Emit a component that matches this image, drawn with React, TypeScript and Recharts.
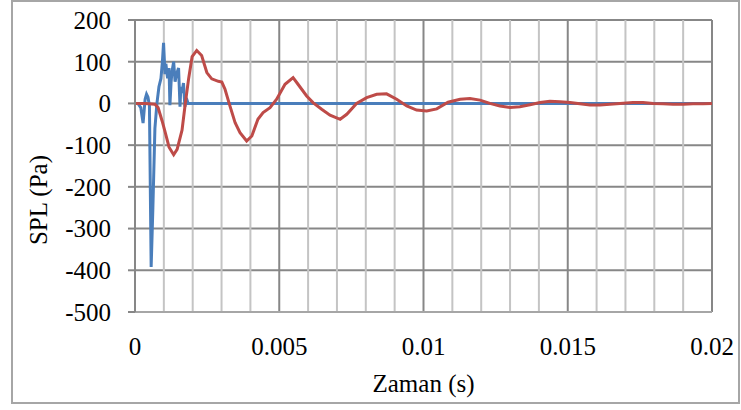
import React from "react";
import { LineChart, Line, XAxis, YAxis, CartesianGrid, ReferenceLine, Label } from "recharts";

// time (s) and SPL (Pa)
const blueTime = [
  0, 0.0001, 0.0002, 0.00028, 0.00035, 0.0004, 0.00045, 0.0005, 0.00056, 0.00062, 0.00069,
  0.00076, 0.00083, 0.0009, 0.00095, 0.00099, 0.00104, 0.00107, 0.00113, 0.00118, 0.00121,
  0.00125, 0.00128, 0.00134, 0.00139, 0.00144, 0.00151, 0.00156, 0.00159, 0.00163, 0.00168,
  0.00173, 0.00178, 0.00184, 0.0019, 0.02,
];
const blueSpl = [
  0, 0, -10, -47, 10, 22, 15, -5, -392, -250, -60, 0, 40, 60, 100, 145, 70, 95, 60, 85, -4, 50,
  75, 100, 52, 70, 85, -8, 40, 25, 49, -8, 13, 0, 0, 0,
];

const redTime = [
  0, 0.00035, 0.00069, 0.0008, 0.00094, 0.00105, 0.00118, 0.00134, 0.00146, 0.00163, 0.00174,
  0.00186, 0.00198, 0.00214, 0.00231, 0.00249, 0.00266, 0.00289, 0.00301, 0.00312, 0.00329,
  0.00347, 0.00364, 0.00387, 0.00405, 0.00426, 0.00444, 0.00468, 0.00491, 0.0052, 0.00548,
  0.00565, 0.00595, 0.00617, 0.00647, 0.00676, 0.00711, 0.00734, 0.00768, 0.00803, 0.00838,
  0.00872, 0.00907, 0.00942, 0.00976, 0.01011, 0.01046, 0.01085, 0.01127, 0.01161, 0.01196,
  0.0123, 0.01265, 0.013, 0.01334, 0.01369, 0.01404, 0.01438, 0.01473, 0.01508, 0.01542,
  0.01577, 0.01612, 0.01646, 0.01681, 0.01726, 0.01761, 0.01796, 0.0183, 0.01865, 0.019,
  0.01934, 0.01969, 0.02,
];
const redSpl = [
  0, 0, -2, -10, -42, -70, -105, -123, -110, -64, -2, 60, 112, 127, 115, 74, 59, 53, 51, 34, -6,
  -46, -70, -90, -78, -38, -22, -10, 10, 46, 62, 46, 18, 2, -14, -28, -38, -26, 0, 14, 22, 23, 10,
  -6, -16, -18, -13, 3, 10, 12, 8, 0, -6, -10, -8, -3, 2, 5, 4, 2, -1, -4, -4, -2, 0, 2, 2, 0, -1,
  -2, -2, -1, -1, 0,
];

const xTicks = [0, 0.005, 0.01, 0.015, 0.02];
const xMinorGrid = [
  0.001, 0.002, 0.003, 0.004, 0.006, 0.007, 0.008, 0.009, 0.011, 0.012, 0.013, 0.014, 0.016,
  0.017, 0.018, 0.019,
];
const xMajorGrid = [0.005, 0.01, 0.015, 0.02];
const yTicks = [-500, -400, -300, -200, -100, 0, 100, 200];

const blueData = blueTime.map((t, i) => ({ t, v: blueSpl[i] }));
const redData = redTime.map((t, i) => ({ t, v: redSpl[i] }));

const FONT = "Liberation Serif, Times New Roman, DejaVu Serif, serif";
const tickStyle = { fontFamily: FONT, fontSize: 25, fill: "#000" };

export default function App() {
  return (
    <div
      style={{
        position: "absolute",
        left: 0,
        top: 0,
        width: 741,
        height: 410,
        background: "#fff",
        fontFamily: FONT,
      }}
    >
      <div
        style={{
          position: "absolute",
          left: 11,
          top: 0,
          width: 729,
          height: 404,
          boxSizing: "border-box",
          border: "2px solid #a6a6a6",
        }}
      />
      <div style={{ position: "absolute", left: 0, top: 0 }}>
        <LineChart
          width={741}
          height={410}
          margin={{ top: 20, right: 29, left: 0, bottom: 0 }}
          style={{ fontFamily: FONT }}
        >
          <CartesianGrid horizontal vertical={false} stroke="#878787" strokeWidth={2} />
          {xMinorGrid.map((x) => (
            <ReferenceLine key={"m" + x} x={x} stroke="#c4c4c4" strokeWidth={2} />
          ))}
          {xMajorGrid.map((x) => (
            <ReferenceLine key={"M" + x} x={x} stroke="#878787" strokeWidth={2} />
          ))}
          <XAxis
            type="number"
            dataKey="t"
            domain={[0, 0.02]}
            ticks={xTicks}
            height={98}
            tickLine={false}
            tickSize={0}
            tickMargin={25}
            axisLine={{ stroke: "#a6a6a6", strokeWidth: 2 }}
            tick={tickStyle}
            allowDataOverflow
          >
            <Label
              value="Zaman (s)"
              position="insideBottom"
              offset={18}
              fontFamily={FONT}
              fontSize={25}
              fill="#000"
            />
          </XAxis>
          <YAxis
            type="number"
            domain={[-500, 200]}
            ticks={yTicks}
            width={135}
            tickSize={7}
            tickMargin={17}
            tickLine={{ stroke: "#878787", strokeWidth: 2 }}
            axisLine={{ stroke: "#878787", strokeWidth: 2 }}
            tick={tickStyle}
            allowDataOverflow
          >
            <Label
              content={() => (
                <text
                  x={47}
                  y={200}
                  transform="rotate(-90 47 200)"
                  textAnchor="middle"
                  fontFamily={FONT}
                  fontSize={25}
                  fill="#000"
                >
                  SPL (Pa)
                </text>
              )}
            />
          </YAxis>
          <Line
            data={blueData}
            dataKey="v"
            type="linear"
            stroke="#4a7ebb"
            strokeWidth={3}
            dot={false}
            activeDot={false}
            isAnimationActive={false}
          />
          <Line
            data={redData}
            dataKey="v"
            type="linear"
            stroke="#be4b48"
            strokeWidth={3}
            dot={false}
            activeDot={false}
            isAnimationActive={false}
          />
        </LineChart>
      </div>
    </div>
  );
}
